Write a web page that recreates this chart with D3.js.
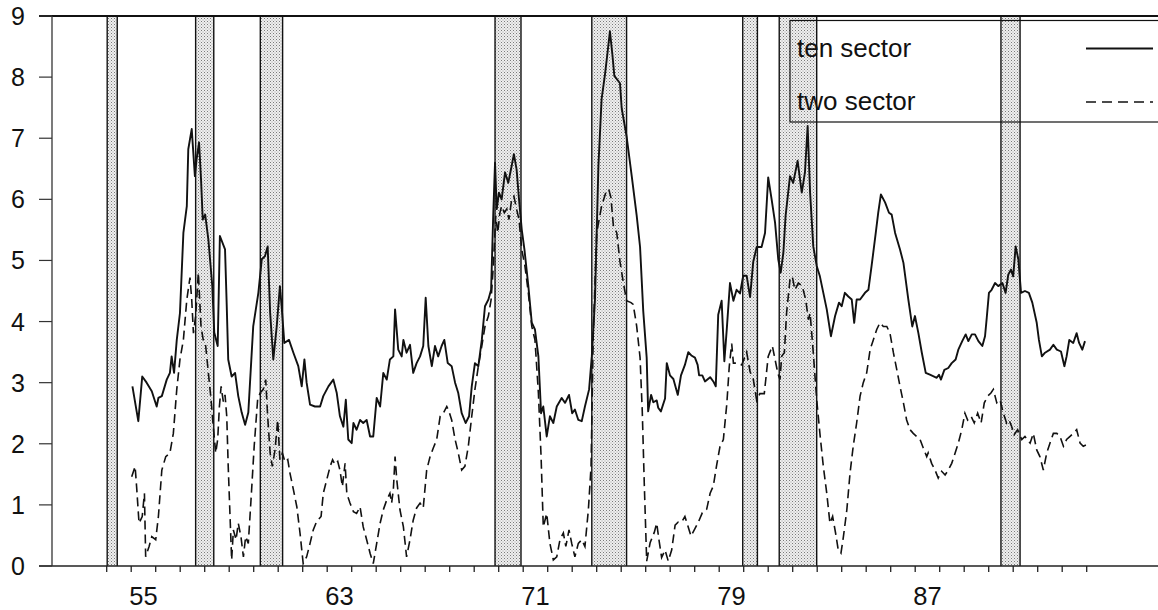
<!DOCTYPE html>
<html><head><meta charset="utf-8">
<script src="https://cdn.jsdelivr.net/npm/d3@7/dist/d3.min.js"></script>
<style>
html,body{margin:0;padding:0;background:#fff;}
svg{display:block;}
text{font-family:"Liberation Sans",Arial,Helvetica,sans-serif;fill:#111;}
</style></head>
<body>
<svg id="chart" width="1158" height="610"></svg>
<script>
// ---- data (decimal year, value) ----
const tenSector = [
[1955.05,2.94],[1955.29,2.37],[1955.45,3.10],[1955.63,3.00],[1955.84,2.86],[1956.04,2.61],[1956.11,2.75],[1956.25,2.78],
[1956.45,3.05],[1956.58,3.16],[1956.65,3.43],[1956.75,3.16],[1956.86,3.70],[1956.99,4.14],[1957.13,5.45],[1957.27,5.89],
[1957.33,6.82],[1957.47,7.15],[1957.60,6.38],[1957.67,6.66],[1957.77,6.93],[1957.85,6.33],[1957.92,5.67],[1958.02,5.75],
[1958.15,5.34],[1958.31,4.58],[1958.39,3.82],[1958.53,3.60],[1958.62,5.40],[1958.83,5.18],[1958.90,4.25],[1958.96,3.38],
[1959.10,3.10],[1959.24,3.16],[1959.37,2.78],[1959.51,2.51],[1959.65,2.31],[1959.78,2.51],[1959.98,3.92],[1960.19,4.47],
[1960.33,5.02],[1960.46,5.07],[1960.57,5.23],[1960.67,4.15],[1960.80,3.38],[1960.94,3.92],[1961.07,4.58],[1961.14,4.25],
[1961.25,3.65],[1961.44,3.70],[1961.62,3.49],[1961.82,3.27],[1961.96,2.94],[1962.07,3.38],[1962.16,3.00],[1962.30,2.64],
[1962.50,2.61],[1962.71,2.61],[1962.84,2.78],[1963.05,2.94],[1963.25,3.05],[1963.39,2.83],[1963.52,2.45],[1963.66,2.28],
[1963.76,2.72],[1963.86,2.07],[1964.00,2.01],[1964.07,2.34],[1964.20,2.23],[1964.34,2.39],[1964.47,2.34],[1964.61,2.39],
[1964.75,2.12],[1964.88,2.12],[1965.02,2.75],[1965.16,2.61],[1965.29,3.16],[1965.43,3.05],[1965.56,3.38],[1965.70,3.43],
[1965.77,4.20],[1965.90,3.54],[1966.04,3.43],[1966.11,3.70],[1966.24,3.49],[1966.38,3.62],[1966.51,3.16],[1966.65,3.32],
[1966.79,3.43],[1966.92,3.60],[1967.02,4.39],[1967.13,3.60],[1967.27,3.27],[1967.40,3.60],[1967.53,3.43],[1967.67,3.60],
[1967.78,3.70],[1967.92,3.32],[1968.08,3.27],[1968.22,3.00],[1968.35,2.83],[1968.49,2.50],[1968.65,2.34],[1968.79,2.45],
[1968.90,2.94],[1969.03,3.32],[1969.17,3.27],[1969.31,3.70],[1969.44,4.25],[1969.58,4.36],[1969.69,4.52],[1969.78,5.78],
[1969.85,6.60],[1969.92,5.84],[1970.01,6.11],[1970.12,6.00],[1970.26,6.44],[1970.39,6.27],[1970.53,6.55],[1970.62,6.74],
[1970.73,6.49],[1970.83,6.00],[1970.94,5.51],[1971.05,5.18],[1971.21,4.58],[1971.35,3.98],[1971.48,3.87],[1971.62,3.43],
[1971.73,2.50],[1971.82,2.61],[1971.96,2.12],[1972.09,2.45],[1972.23,2.34],[1972.37,2.61],[1972.57,2.75],[1972.71,2.67],
[1972.87,2.80],[1973.00,2.50],[1973.11,2.56],[1973.25,2.39],[1973.39,2.37],[1973.52,2.61],[1973.69,2.89],[1973.80,3.43],
[1973.93,4.36],[1974.07,6.55],[1974.20,7.64],[1974.34,8.05],[1974.45,8.43],[1974.54,8.75],[1974.64,8.37],[1974.72,8.02],
[1974.95,7.90],[1975.02,7.49],[1975.22,7.03],[1975.43,6.38],[1975.63,5.74],[1975.77,5.22],[1975.90,4.17],[1976.04,3.41],
[1976.10,2.53],[1976.22,2.80],[1976.31,2.68],[1976.45,2.71],[1976.51,2.59],[1976.62,2.53],[1976.79,2.74],[1976.86,3.32],
[1976.99,3.12],[1977.13,3.06],[1977.31,2.80],[1977.44,3.12],[1977.60,3.29],[1977.74,3.50],[1977.88,3.44],[1978.01,3.41],
[1978.12,3.29],[1978.18,3.12],[1978.31,3.12],[1978.42,3.02],[1978.63,3.09],[1978.76,3.02],[1978.86,2.94],[1978.96,4.11],
[1979.10,4.34],[1979.21,3.35],[1979.31,3.88],[1979.44,4.63],[1979.58,4.34],[1979.71,4.52],[1979.85,4.46],[1979.98,4.75],
[1980.12,4.75],[1980.26,4.40],[1980.39,4.98],[1980.53,5.22],[1980.73,5.22],[1980.87,5.45],[1981.00,6.36],[1981.14,6.00],
[1981.28,5.62],[1981.41,5.02],[1981.51,4.80],[1981.62,5.13],[1981.71,5.73],[1981.89,6.38],[1982.02,6.27],[1982.20,6.63],
[1982.37,6.11],[1982.50,6.44],[1982.61,7.20],[1982.71,6.11],[1982.84,5.23],[1982.98,4.91],[1983.11,4.74],[1983.25,4.47],
[1983.39,4.20],[1983.56,3.76],[1983.73,4.09],[1983.89,4.31],[1984.00,4.25],[1984.13,4.47],[1984.27,4.41],[1984.41,4.36],
[1984.51,3.98],[1984.61,4.36],[1984.75,4.36],[1984.95,4.47],[1985.09,4.52],[1985.22,4.91],[1985.39,5.45],[1985.49,5.78],
[1985.60,6.08],[1985.77,5.95],[1985.93,5.78],[1986.04,5.75],[1986.18,5.45],[1986.38,5.18],[1986.52,4.96],[1986.72,4.36],
[1986.88,3.92],[1986.99,4.09],[1987.13,3.81],[1987.27,3.49],[1987.43,3.16],[1987.60,3.13],[1987.88,3.08],[1987.97,3.13],
[1988.05,3.05],[1988.19,3.21],[1988.35,3.24],[1988.49,3.32],[1988.65,3.38],[1988.76,3.54],[1988.92,3.68],[1989.06,3.79],
[1989.17,3.68],[1989.31,3.79],[1989.44,3.79],[1989.58,3.68],[1989.74,3.60],[1989.85,3.76],[1989.92,4.06],[1990.01,4.47],
[1990.12,4.52],[1990.26,4.63],[1990.39,4.58],[1990.56,4.63],[1990.69,4.47],[1990.80,4.77],[1990.91,4.85],[1991.00,4.74],
[1991.10,5.23],[1991.21,5.02],[1991.32,4.47],[1991.48,4.50],[1991.64,4.47],[1991.78,4.31],[1991.96,3.98],[1992.05,3.70],
[1992.17,3.43],[1992.30,3.49],[1992.50,3.54],[1992.64,3.62],[1992.78,3.54],[1992.95,3.51],[1993.09,3.27],[1993.18,3.43],
[1993.29,3.70],[1993.45,3.65],[1993.59,3.81],[1993.69,3.65],[1993.82,3.54],[1993.93,3.68]
];
const twoSector = [
[1955.02,1.46],[1955.16,1.63],[1955.22,1.30],[1955.32,0.70],[1955.45,0.81],[1955.54,1.19],[1955.59,0.15],[1955.73,0.32],
[1955.84,0.48],[1956.00,0.43],[1956.11,0.81],[1956.25,1.57],[1956.41,1.79],[1956.58,1.85],[1956.72,2.17],[1956.86,2.89],
[1956.99,3.38],[1957.13,3.70],[1957.27,4.36],[1957.40,4.72],[1957.47,4.36],[1957.54,3.81],[1957.63,4.09],[1957.74,4.80],
[1957.85,3.92],[1957.94,3.70],[1958.04,3.60],[1958.15,3.16],[1958.26,2.72],[1958.35,2.28],[1958.45,1.85],[1958.53,2.07],
[1958.60,2.61],[1958.67,2.94],[1958.76,2.69],[1958.83,2.80],[1958.90,2.45],[1958.96,1.63],[1959.03,0.86],[1959.10,0.10],
[1959.17,0.59],[1959.28,0.43],[1959.37,0.70],[1959.48,0.48],[1959.58,0.15],[1959.67,0.48],[1959.78,0.37],[1959.89,1.08],
[1960.02,1.96],[1960.16,2.72],[1960.26,2.83],[1960.39,2.89],[1960.49,3.05],[1960.57,2.45],[1960.67,1.85],[1960.76,1.63],
[1960.87,1.90],[1960.98,2.39],[1961.07,1.74],[1961.17,1.85],[1961.28,1.70],[1961.39,1.74],[1961.48,1.52],[1961.62,1.25],
[1961.76,0.97],[1961.89,0.54],[1962.02,0.04],[1962.16,0.15],[1962.30,0.37],[1962.43,0.59],[1962.57,0.73],[1962.75,0.81],
[1962.84,1.19],[1962.98,1.41],[1963.12,1.63],[1963.22,1.74],[1963.32,1.66],[1963.43,1.71],[1963.52,1.57],[1963.62,1.30],
[1963.73,1.68],[1963.80,1.19],[1963.93,1.03],[1964.07,0.89],[1964.20,0.86],[1964.34,0.97],[1964.47,0.64],[1964.61,0.43],
[1964.75,0.21],[1964.88,0.04],[1965.02,0.37],[1965.16,0.70],[1965.29,0.92],[1965.43,1.08],[1965.56,1.19],[1965.63,1.03],
[1965.70,1.25],[1965.77,1.79],[1965.84,1.41],[1965.97,0.92],[1966.11,0.64],[1966.24,0.15],[1966.38,0.43],[1966.51,0.75],
[1966.65,0.95],[1966.79,1.03],[1966.92,0.95],[1967.06,1.57],[1967.20,1.79],[1967.33,1.93],[1967.47,2.07],[1967.61,2.45],
[1967.74,2.50],[1967.88,2.61],[1967.97,2.53],[1968.08,2.39],[1968.22,2.07],[1968.35,1.85],[1968.49,1.57],[1968.62,1.63],
[1968.76,1.96],[1968.90,2.45],[1969.03,2.89],[1969.17,3.27],[1969.31,3.60],[1969.44,3.92],[1969.58,4.09],[1969.69,4.36],
[1969.78,4.91],[1969.88,5.73],[1969.96,5.45],[1970.05,5.78],[1970.12,5.89],[1970.23,5.78],[1970.33,5.84],[1970.42,5.67],
[1970.53,6.00],[1970.62,6.05],[1970.73,5.84],[1970.83,5.67],[1970.94,5.18],[1971.07,4.91],[1971.21,4.47],[1971.35,3.92],
[1971.48,3.70],[1971.62,2.83],[1971.73,1.79],[1971.82,0.64],[1971.96,0.86],[1972.09,0.37],[1972.23,0.10],[1972.37,0.15],
[1972.50,0.43],[1972.64,0.54],[1972.74,0.32],[1972.87,0.59],[1972.98,0.37],[1973.11,0.15],[1973.25,0.37],[1973.39,0.43],
[1973.52,0.32],[1973.66,0.92],[1973.77,1.63],[1973.86,3.81],[1974.00,5.45],[1974.20,5.89],[1974.41,6.16],[1974.50,6.15],
[1974.58,6.03],[1974.68,5.57],[1974.82,5.45],[1974.95,4.98],[1975.09,4.63],[1975.22,4.34],[1975.40,4.31],[1975.49,4.28],
[1975.63,3.93],[1975.77,3.41],[1975.86,2.53],[1975.94,1.37],[1976.04,0.08],[1976.18,0.38],[1976.35,0.55],[1976.45,0.70],
[1976.54,0.43],[1976.65,0.14],[1976.79,0.26],[1976.92,0.08],[1977.06,0.26],[1977.20,0.67],[1977.33,0.72],[1977.47,0.72],
[1977.60,0.81],[1977.71,0.67],[1977.85,0.49],[1978.01,0.61],[1978.15,0.72],[1978.31,0.87],[1978.49,0.93],[1978.63,1.19],
[1978.76,1.31],[1978.90,1.66],[1979.03,1.95],[1979.17,2.07],[1979.31,2.65],[1979.41,3.26],[1979.51,3.64],[1979.58,3.32],
[1979.71,3.32],[1979.92,3.29],[1980.12,3.50],[1980.26,3.18],[1980.39,3.06],[1980.53,2.71],[1980.66,2.82],[1980.84,2.82],
[1981.00,3.43],[1981.17,3.60],[1981.28,3.38],[1981.39,3.16],[1981.48,3.05],[1981.55,3.43],[1981.66,3.49],[1981.75,4.14],
[1981.89,4.69],[1981.98,4.74],[1982.09,4.52],[1982.23,4.63],[1982.39,4.58],[1982.53,4.36],[1982.64,4.03],[1982.71,4.14],
[1982.84,3.49],[1982.98,2.72],[1983.11,2.17],[1983.25,1.63],[1983.39,1.19],[1983.52,0.70],[1983.63,0.81],[1983.75,0.54],
[1983.86,0.26],[1983.97,0.21],[1984.07,0.48],[1984.21,0.92],[1984.34,1.52],[1984.47,1.96],[1984.61,2.34],[1984.75,2.78],
[1984.88,3.00],[1985.02,3.16],[1985.16,3.54],[1985.29,3.70],[1985.43,3.87],[1985.56,3.98],[1985.70,3.92],[1985.84,3.92],
[1985.97,3.81],[1986.11,3.49],[1986.25,3.21],[1986.38,2.94],[1986.52,2.67],[1986.65,2.39],[1986.79,2.23],[1986.92,2.17],
[1987.06,2.12],[1987.20,2.07],[1987.33,1.93],[1987.47,1.79],[1987.53,1.85],[1987.67,1.68],[1987.81,1.57],[1987.94,1.44],
[1988.08,1.55],[1988.22,1.49],[1988.35,1.57],[1988.49,1.68],[1988.63,1.85],[1988.76,2.01],[1988.90,2.23],[1989.03,2.50],
[1989.14,2.39],[1989.28,2.45],[1989.41,2.34],[1989.55,2.50],[1989.69,2.34],[1989.82,2.67],[1989.96,2.78],[1990.09,2.83],
[1990.19,2.89],[1990.33,2.67],[1990.46,2.72],[1990.60,2.50],[1990.73,2.34],[1990.83,2.39],[1990.94,2.28],[1991.04,2.15],
[1991.18,2.23],[1991.35,2.07],[1991.48,2.12],[1991.69,2.01],[1991.82,2.17],[1991.96,1.90],[1992.09,1.79],[1992.23,1.57],
[1992.37,1.85],[1992.50,2.01],[1992.64,2.17],[1992.78,2.17],[1992.91,2.12],[1993.05,1.96],[1993.18,2.07],[1993.32,2.12],
[1993.45,2.17],[1993.59,2.23],[1993.73,2.01],[1993.86,1.96],[1993.97,1.98]
];
const recessionStarts = [1954.02, 1957.63, 1960.27, 1969.85, 1973.80, 1979.96, 1981.45, 1990.50];
const recessionEnds   = [1954.43, 1958.37, 1961.18, 1970.91, 1975.22, 1980.56, 1982.98, 1991.28];
const xTickYears = d3.range(1954, 1995);
const xLabelYears = [1955, 1963, 1971, 1979, 1987];
const xLabels = ["55", "63", "71", "79", "87"];
const yTicks = [0, 1, 2, 3, 4, 5, 6, 7, 8, 9];
const seriesNames = ["ten sector", "two sector"];

// ---- layout ----
const svg = d3.select("#chart");
const x = d3.scaleLinear().domain([1954, 1994]).range([106.7, 1086.7]);
const y = d3.scaleLinear().domain([0, 9]).range([566, 16]);
const axisX = 52, leftX = 39, rightX = 1158;

const defs = svg.append("defs");
const pat = defs.append("pattern").attr("id", "stipple").attr("patternUnits", "userSpaceOnUse")
  .attr("width", 3).attr("height", 3);
pat.append("rect").attr("width", 3).attr("height", 3).attr("fill", "#efefef");
pat.append("rect").attr("x", 0).attr("y", 0).attr("width", 1).attr("height", 1).attr("fill", "#7a7a7a");
pat.append("rect").attr("x", 1.5).attr("y", 1.5).attr("width", 1).attr("height", 1).attr("fill", "#a0a0a0");

// recession bands
const bands = recessionStarts.map((s, i) => ({s, e: recessionEnds[i]}));
const bg = svg.append("g");
bg.selectAll("rect.band").data(bands).join("rect").attr("class", "band")
  .attr("x", d => x(d.s)).attr("width", d => x(d.e) - x(d.s))
  .attr("y", y(9)).attr("height", y(0) - y(9)).attr("fill", "url(#stipple)");
bg.selectAll("line.bl").data(bands.flatMap(d => [d.s, d.e])).join("line").attr("class", "bl")
  .attr("x1", d => x(d)).attr("x2", d => x(d)).attr("y1", y(9)).attr("y2", y(0))
  .attr("stroke", "#111").attr("stroke-width", 1.4);

// axes frame
svg.append("line").attr("x1", leftX).attr("x2", rightX).attr("y1", y(9)).attr("y2", y(9))
  .attr("stroke", "#111").attr("stroke-width", 1.8);
svg.append("line").attr("x1", leftX).attr("x2", rightX).attr("y1", y(0)).attr("y2", y(0))
  .attr("stroke", "#222").attr("stroke-width", 1.4);
svg.append("line").attr("x1", axisX).attr("x2", axisX).attr("y1", y(9)).attr("y2", y(0))
  .attr("stroke", "#333").attr("stroke-width", 1.3);

// y ticks + labels
const yg = svg.append("g");
yg.selectAll("line").data(yTicks).join("line")
  .attr("x1", leftX).attr("x2", axisX).attr("y1", d => y(d)).attr("y2", d => y(d))
  .attr("stroke", "#333").attr("stroke-width", 1.2);
yg.selectAll("text").data(yTicks).join("text")
  .attr("x", 25).attr("y", d => y(d)).attr("dy", "0.36em").attr("text-anchor", "end")
  .attr("font-size", 25).text(d => d);

// x ticks + labels
const xg = svg.append("g");
xg.selectAll("line").data(xTickYears).join("line")
  .attr("x1", d => x(d)).attr("x2", d => x(d)).attr("y1", y(0)).attr("y2", y(0) + 6)
  .attr("stroke", "#222").attr("stroke-width", 1.3);
xg.selectAll("text").data(xLabelYears).join("text")
  .attr("x", d => x(d + 0.5)).attr("y", 605).attr("text-anchor", "middle")
  .attr("font-size", 25.5).text((d, i) => xLabels[i]);

// series lines
const line = d3.line().x(d => x(d[0])).y(d => y(d[1]));
svg.append("path").datum(twoSector).attr("d", line).attr("fill", "none")
  .attr("stroke", "#111").attr("stroke-width", 1.6).attr("stroke-dasharray", "9,5");
svg.append("path").datum(tenSector).attr("d", line).attr("fill", "none")
  .attr("stroke", "#111").attr("stroke-width", 1.9).attr("stroke-linejoin", "round");

// legend
const lg = svg.append("g");
lg.append("rect").attr("x", 790).attr("y", 20.5).attr("width", 400).attr("height", 101.5)
  .attr("fill", "none").attr("stroke", "#111").attr("stroke-width", 1.2);
lg.append("text").attr("x", 797).attr("y", 57).attr("font-size", 26).text(seriesNames[0]);
lg.append("text").attr("x", 797).attr("y", 110).attr("font-size", 26).text(seriesNames[1]);
lg.append("line").attr("x1", 1086).attr("x2", 1153).attr("y1", 48.5).attr("y2", 48.5)
  .attr("stroke", "#111").attr("stroke-width", 1.8);
lg.append("line").attr("x1", 1086).attr("x2", 1153).attr("y1", 102).attr("y2", 102)
  .attr("stroke", "#111").attr("stroke-width", 1.5).attr("stroke-dasharray", "10,6");
</script>
</body></html>
